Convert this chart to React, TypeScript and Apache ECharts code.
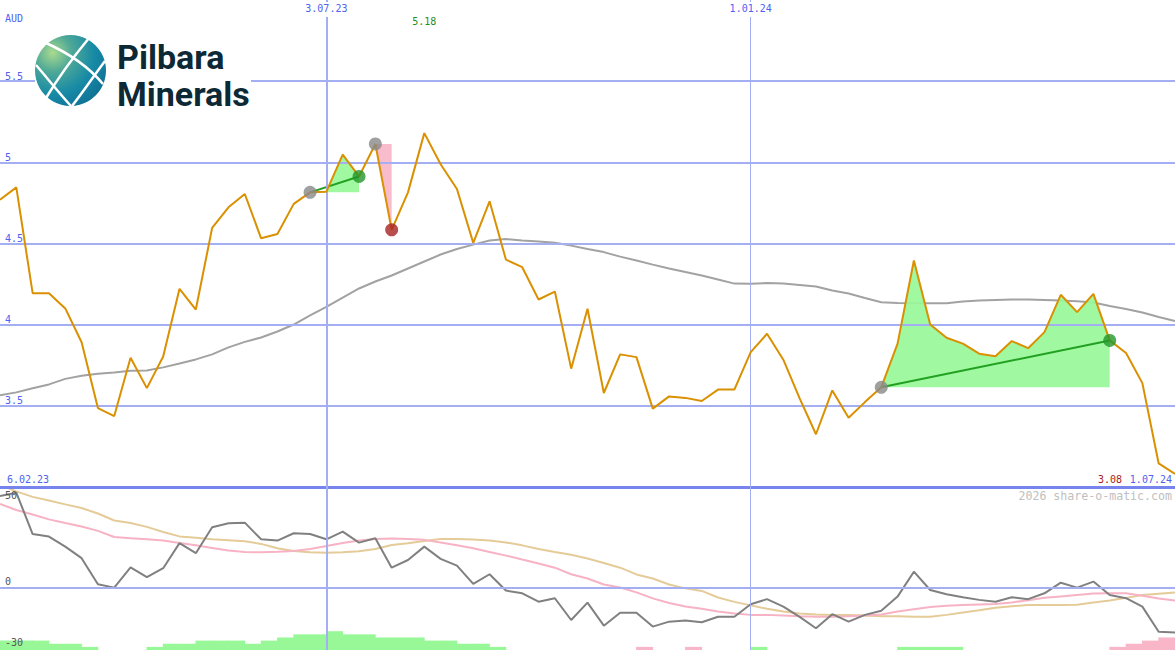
import React, { useEffect, useRef } from 'react';
import * as echarts from 'echarts';

// ---------- data ----------
const currency = 'AUD';
const price = [
  4.77, 4.846, 4.194, 4.194, 4.1, 3.892, 3.486, 3.437, 3.796, 3.609,
  3.804, 4.221, 4.093, 4.596, 4.723, 4.805, 4.532, 4.559, 4.744, 4.815,
  4.819, 5.047, 4.913, 5.113, 4.584, 4.815, 5.18, 4.988, 4.836, 4.504,
  4.76, 4.401, 4.354, 4.155, 4.204, 3.729, 4.098, 3.579, 3.817, 3.8,
  3.483, 3.558, 3.549, 3.53, 3.6, 3.6, 3.831, 3.944, 3.784, 3.546,
  3.325, 3.595, 3.427, 3.523, 3.614, 3.883, 4.395, 4.001, 3.919, 3.883,
  3.821, 3.806, 3.899, 3.855, 3.954, 4.184, 4.077, 4.19, 3.903, 3.825,
  3.64, 3.145, 3.08,
];
const priceMA = [
  3.565, 3.583, 3.608, 3.632, 3.666, 3.685, 3.697, 3.706, 3.716, 3.718,
  3.737, 3.761, 3.786, 3.817, 3.86, 3.894, 3.921, 3.958, 4.001, 4.057,
  4.109, 4.167, 4.223, 4.266, 4.303, 4.346, 4.389, 4.432, 4.466, 4.493,
  4.518, 4.527, 4.518, 4.512, 4.504, 4.487, 4.466, 4.447, 4.419, 4.395,
  4.37, 4.346, 4.324, 4.303, 4.278, 4.253, 4.252, 4.256, 4.253, 4.244,
  4.235, 4.21, 4.192, 4.164, 4.138, 4.133, 4.132, 4.132, 4.132, 4.143,
  4.149, 4.152, 4.155, 4.155, 4.152, 4.149, 4.144, 4.137, 4.115, 4.097,
  4.075, 4.047, 4.022,
];
const osc = [
  50, 51.8, 29.2, 27.8, 22.3, 16, 1.7, -0.1, 11, 5.6,
  10.5, 24.2, 18.7, 32.9, 35.1, 35.4, 26.3, 25.6, 29.6, 29.2,
  26.3, 30.5, 24.5, 26.9, 10.8, 15, 22.3, 15.6, 11.9, 1.9,
  7.2, -1.7, -3.2, -7.8, -5.9, -17.8, -8.3, -20.9, -13.8, -13.8,
  -21.4, -18.7, -18.1, -19, -16, -16, -9.2, -6.4, -10.5, -16.1,
  -22.3, -14.6, -18.7, -15, -12.7, -5, 8.6, -1.4, -3.7, -5.4,
  -6.8, -7.8, -5.4, -6.4, -3.2, 2.6, -0.1, 3.2, -4.1, -5.9,
  -10.5, -24.2, -24.7,
];
const oscFast = [
  45.6, 42.3, 39.9, 37.2, 35.2, 33.3, 30.9, 27.6, 26.9, 26.3,
  25.7, 24.3, 23, 21.6, 20.2, 19.4, 19.2, 19.5, 19.9, 21,
  22.7, 24.3, 25.7, 26.5, 26.8, 26.5, 26, 24.6, 23, 21.4,
  19.4, 17.4, 15.3, 13.1, 10.8, 7.2, 4.9, 1.6, 0, -2.7,
  -6, -8.5, -10.4, -11.7, -13.2, -14.2, -15, -15, -15.3, -15.7,
  -16, -16, -15.8, -15.3, -14.8, -13.2, -11.9, -10.7, -10, -9.6,
  -9.3, -9, -8.2, -7, -5.7, -4.9, -4.1, -3.3, -3.2, -3.2,
  -4.6, -6, -7.2,
];
const oscSlow = [
  56, 52.5, 49.5, 47.5, 45.4, 43.4, 40.4, 36.6, 35.2, 33.1,
  30.3, 27.9, 27.2, 26.4, 25.8, 25.2, 23.8, 21.4, 19.9, 19.2,
  19, 19.3, 19.8, 21, 23.2, 24.2, 25.4, 26.5, 26.5, 26.2,
  25.7, 24.6, 23, 21, 19.4, 17.9, 15.8, 13.4, 10.8, 7.1,
  4.9, 1.6, -0.5, -1.9, -5.5, -7.9, -9.8, -11.7, -13.1, -14.2,
  -14.8, -15, -15.1, -15.4, -15.7, -15.8, -16, -16, -15, -13.7,
  -12.5, -11.1, -10.3, -9.6, -9.6, -9.6, -9.5, -8.2, -7.1, -5.7,
  -4.1, -3.4, -2.8,
];
// one bar per weekly interval; sign gives colour
const barLevels = [
  3, 3, 3, 2, 2, 1, 0, 0, 0, 1,
  2, 2, 3, 3, 3, 2, 3, 4, 5, 5,
  6, 5, 5, 4, 4, 4, 3, 3, 2, 2,
  1, 0, 0, 0, 0, 0, 0, 0, 0, -1,
  0, 0, -1, 0, 0, 0, 1, 0, 0, 0,
  0, 0, 0, 0, 0, 1, 1, 1, 1, 0,
  0, 0, 0, 0, 0, 0, 0, 0, -1, -2,
  -3, -4,
];
const xTickIdx = [20, 46];
const xTickLabels = ['3.07.23', '1.01.24'];
const startLabel = '6.02.23';
const endLabel = '1.07.24';
const priceTicks = [3.5, 4, 4.5, 5, 5.5];
const oscTicks = [50, 0, -30];
const tradeStart = [19, 23, 54];
const tradeEnd = [22, 24, 68];
const watermark = '2026 share-o-matic.com';

// ---------- styles ----------
const MONO = '"DejaVu Sans Mono", monospace';
const LABEL = '#5162ee';
const GRID = '#a4aef2';
const SEP = '#7884ee';
const ORANGE = '#da9000';
const MA_GRAY = '#a2a2a2';
const GREEN_FILL = '#98f898';
const PINK_FILL = '#f8b6c8';
const GREEN_LINE = '#22a022';
const GREEN_DOT = '#23962a';
const RED_DOT = '#a82222';
const GRAY_DOT = '#888888';

const pairs = (arr: number[]) => arr.map((v, i) => [i, v]);

function buildOption() {
  const N = price.length;
  const last = N - 1;
  let maxIdx = 0;
  price.forEach((p, i) => {
    if (p > price[maxIdx]) maxIdx = i;
  });

  const series: any[] = [];

  // grid lines of price panel
  series.push({
    type: 'line',
    xAxisIndex: 0,
    yAxisIndex: 0,
    data: pairs(price),
    symbol: 'none',
    lineStyle: { opacity: 0 },
    silent: true,
    z: 1,
    markLine: {
      symbol: 'none',
      silent: true,
      label: { show: false },
      data: [
        ...priceTicks.map((t) => ({ yAxis: t, lineStyle: { color: GRID, width: 2, type: 'solid' } })),
        { yAxis: 3, lineStyle: { color: SEP, width: 3, type: 'solid' } },
        ...xTickIdx.map((t, k) => ({ xAxis: t, lineStyle: { color: GRID, width: k === 0 ? 2 : 1, type: 'solid' } })),
      ],
    },
  });

  // moving average
  series.push({
    type: 'line',
    xAxisIndex: 0,
    yAxisIndex: 0,
    data: pairs(priceMA),
    symbol: 'none',
    lineStyle: { color: MA_GRAY, width: 2 },
    z: 2,
  });

  // trade areas
  tradeStart.forEach((s, k) => {
    const e = tradeEnd[k];
    const win = price[e] >= price[s];
    const d: number[][] = [];
    for (let i = s; i <= e; i++) d.push([i, price[i]]);
    series.push({
      type: 'line',
      xAxisIndex: 0,
      yAxisIndex: 0,
      data: d,
      symbol: 'none',
      lineStyle: { width: 0, opacity: 0 },
      areaStyle: { color: win ? GREEN_FILL : PINK_FILL, opacity: 0.92, origin: price[s] },
      z: 3,
      silent: true,
    });
    if (win) {
      series.push({
        type: 'line',
        xAxisIndex: 0,
        yAxisIndex: 0,
        data: [[s, price[s]], [e, price[e]]],
        symbol: 'none',
        lineStyle: { color: GREEN_LINE, width: 2 },
        z: 4,
        silent: true,
      });
    }
  });

  // price line
  series.push({
    type: 'line',
    xAxisIndex: 0,
    yAxisIndex: 0,
    data: pairs(price),
    symbol: 'none',
    lineStyle: { color: ORANGE, width: 2 },
    z: 5,
  });

  // trade dots
  const dots: any[] = [];
  tradeStart.forEach((s, k) => {
    const e = tradeEnd[k];
    const win = price[e] >= price[s];
    dots.push({ value: [s, price[s]], itemStyle: { color: GRAY_DOT } });
    dots.push({ value: [e, price[e]], itemStyle: { color: win ? GREEN_DOT : RED_DOT } });
  });
  series.push({
    type: 'scatter',
    xAxisIndex: 0,
    yAxisIndex: 0,
    data: dots,
    symbolSize: 13,
    z: 6,
    silent: true,
  });

  // lower panel: grid lines
  series.push({
    type: 'line',
    xAxisIndex: 1,
    yAxisIndex: 1,
    data: pairs(osc),
    symbol: 'none',
    lineStyle: { opacity: 0 },
    silent: true,
    z: 1,
    markLine: {
      symbol: 'none',
      silent: true,
      label: { show: false },
      data: [
        { yAxis: 0, lineStyle: { color: GRID, width: 2, type: 'solid' } },
        ...xTickIdx.map((t, k) => ({ xAxis: t, lineStyle: { color: GRID, width: k === 0 ? 2 : 1, type: 'solid' } })),
      ],
    },
  });

  // lower panel bars
  series.push({
    type: 'bar',
    xAxisIndex: 1,
    yAxisIndex: 2,
    barWidth: 17,
    data: barLevels
      .map((v, i) => ({ v, i }))
      .filter((o) => o.v !== 0)
      .map((o) => ({ value: [o.i + 0.5, Math.abs(o.v)], itemStyle: { color: o.v > 0 ? GREEN_FILL : PINK_FILL } })),
    z: 1,
    silent: true,
  });

  series.push({
    type: 'line', xAxisIndex: 1, yAxisIndex: 1, data: pairs(oscSlow), symbol: 'none',
    lineStyle: { color: '#e4cb98', width: 2 }, z: 2,
  });
  series.push({
    type: 'line', xAxisIndex: 1, yAxisIndex: 1, data: pairs(oscFast), symbol: 'none',
    lineStyle: { color: '#f7b2c4', width: 2 }, z: 2,
  });
  series.push({
    type: 'line', xAxisIndex: 1, yAxisIndex: 1, data: pairs(osc), symbol: 'none',
    lineStyle: { color: '#808080', width: 2 }, z: 3,
  });

  const globeFill = new echarts.graphic.RadialGradient(0.25, 0.25, 0.9, [
    { offset: 0, color: '#a9da8f' },
    { offset: 0.3, color: '#4ea897' },
    { offset: 0.65, color: '#178aa6' },
    { offset: 1, color: '#0f6e93' },
  ]);
  const wl = { stroke: '#ffffff', lineWidth: 2.5, fill: null };
  const logoFont = 'bold 34px Roboto';

  const graphic: any[] = [
    { type: 'rect', shape: { x: 35, y: 30, width: 216, height: 80 }, style: { fill: '#ffffff' }, z: 100 },
    { type: 'circle', shape: { cx: 70.5, cy: 70.5, r: 35.5 }, style: { fill: globeFill }, z: 101 },
    { type: 'bezierCurve', shape: { x1: 46, y1: 43, cpx1: 66, cpy1: 52, cpx2: 88, cpy2: 66, x2: 103, y2: 84 }, style: wl, z: 102 },
    { type: 'bezierCurve', shape: { x1: 89, y1: 38, cpx1: 75, cpy1: 55, cpx2: 58, cpy2: 78, x2: 46, y2: 98 }, style: wl, z: 102 },
    { type: 'bezierCurve', shape: { x1: 36, y1: 65, cpx1: 48, cpy1: 79, cpx2: 60, cpy2: 94, x2: 71, y2: 106 }, style: wl, z: 102 },
    { type: 'bezierCurve', shape: { x1: 105, y1: 61, cpx1: 93, cpy1: 77, cpx2: 83, cpy2: 92, x2: 72, y2: 106 }, style: wl, z: 102 },
    {
      type: 'text', x: 117, y: 57, z: 102,
      style: { text: 'Pilbara', fill: '#0c2935', font: logoFont, lineHeight: 30, align: 'left', verticalAlign: 'middle', textAlign: 'left', textVerticalAlign: 'middle' },
    },
    {
      type: 'text', x: 117, y: 94, z: 102,
      style: { text: 'Minerals', fill: '#0c2935', font: logoFont, lineHeight: 30, align: 'left', verticalAlign: 'middle', textAlign: 'left', textVerticalAlign: 'middle' },
    },
    {
      type: 'text', x: 1172, y: 496, z: 50,
      style: { text: watermark, fill: '#c0c0c0', font: `11.6px ${MONO}`, align: 'right', verticalAlign: 'middle', textAlign: 'right', textVerticalAlign: 'middle' },
    },
    {
      type: 'text', x: 7, y: 479, z: 50,
      style: { text: startLabel, fill: LABEL, font: `10px ${MONO}`, align: 'left', verticalAlign: 'middle', textAlign: 'left', textVerticalAlign: 'middle' },
    },
    {
      type: 'text', x: 1172, y: 479, z: 50,
      style: { text: endLabel, fill: LABEL, font: `10px ${MONO}`, align: 'right', verticalAlign: 'middle', textAlign: 'right', textVerticalAlign: 'middle' },
    },
    {
      type: 'text', x: 1122, y: 479, z: 50,
      style: { text: price[last].toFixed(2), fill: '#a81c1c', font: `10px ${MONO}`, align: 'right', verticalAlign: 'middle', textAlign: 'right', textVerticalAlign: 'middle' },
    },
  ];

  return {
    animation: false,
    backgroundColor: '#ffffff',
    grid: [
      { left: 0, right: 0, top: 0, height: 487 },
      { left: 0, right: 0, top: 487, height: 163 },
    ],
    xAxis: [
      {
        gridIndex: 0,
        type: 'value',
        min: 0,
        max: last,
        position: 'top',
        z: 10,
        axisLine: { show: false },
        axisTick: { show: false },
        splitLine: { show: false },
        axisLabel: {
          inside: true,
          margin: 2,
          customValues: [...xTickIdx, maxIdx],
          fontFamily: MONO,
          fontSize: 10,
          color: LABEL,
          formatter: (v: number) => {
            const k = xTickIdx.indexOf(v);
            if (k >= 0) return `{d|${xTickLabels[k]}}`;
            return `{g|${price[v].toFixed(2)}}`;
          },
          rich: {
            d: { backgroundColor: '#ffffff', padding: [1, 2, 4, 2], fontFamily: MONO, fontSize: 10, color: LABEL },
            g: { padding: [14, 0, 0, 0], fontFamily: MONO, fontSize: 10, color: '#1c8f1c' },
          },
        },
      },
      { gridIndex: 1, type: 'value', min: 0, max: last, show: false },
    ],
    yAxis: [
      {
        gridIndex: 0,
        type: 'value',
        min: 3,
        max: 6,
        interval: 0.5,
        z: 10,
        name: currency,
        nameLocation: 'end',
        nameGap: -18,
        nameTextStyle: { color: LABEL, fontFamily: MONO, fontSize: 10, align: 'left', verticalAlign: 'middle', padding: [0, 0, 0, 5] },
        axisLine: { show: false },
        axisTick: { show: false },
        splitLine: { show: false },
        axisLabel: {
          inside: true,
          margin: 5,
          showMinLabel: false,
          showMaxLabel: false,
          verticalAlign: 'bottom',
          color: LABEL,
          fontFamily: MONO,
          fontSize: 10,
          formatter: (v: number) => (priceTicks.indexOf(v) >= 0 ? String(v) : ''),
        },
      },
      {
        gridIndex: 1,
        type: 'value',
        min: -34.2,
        max: 54.9,
        z: 10,
        axisLine: { show: false },
        axisTick: { show: false },
        splitLine: { show: false },
        axisLabel: {
          inside: true,
          margin: 5,
          customValues: oscTicks,
          color: '#555555',
          fontFamily: MONO,
          fontSize: 10,
          formatter: (v: number) => (v === 0 ? `{z|${v}}` : `{n|${v}}`),
          rich: {
            z: { padding: [0, 0, 11, 0], fontFamily: MONO, fontSize: 10, color: '#555555' },
            n: { fontFamily: MONO, fontSize: 10, color: '#555555' },
          },
        },
      },
      { gridIndex: 1, type: 'value', min: 0, max: 52, show: false },
    ],
    series,
    graphic,
  };
}

export default function App() {
  const ref = useRef<HTMLDivElement>(null);
  useEffect(() => {
    if (!ref.current) return;
    const chart = echarts.init(ref.current, undefined, { renderer: 'svg' });
    chart.setOption(buildOption() as any);
    return () => chart.dispose();
  }, []);
  return (
    <div
      ref={ref}
      style={{ position: 'fixed', left: 0, top: 0, width: 1175, height: 650, background: '#ffffff' }}
    />
  );
}
